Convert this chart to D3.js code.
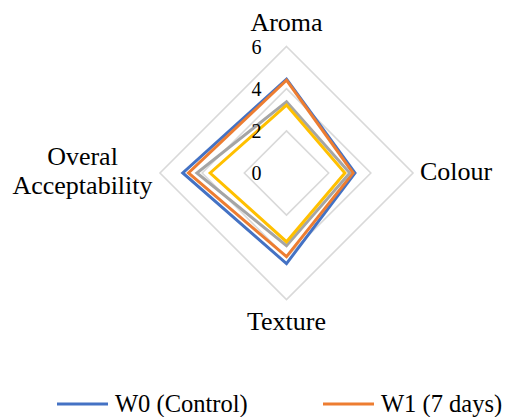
<!DOCTYPE html>
<html><head><meta charset="utf-8">
<script src="https://cdn.jsdelivr.net/npm/d3@7"></script>
<style>body{margin:0;background:#fff}svg{display:block}</style>
</head><body><svg id="c" width="507" height="417"></svg>
<script>
const categories = ["Aroma", "Colour", "Texture", "Overal Acceptability"];
const seriesNames = ["W0 (Control)", "W1 (7 days)", "W2 (14 days)", "W3 (21 days)"];
const w0 = [4.45, 3.25, 4.30, 4.92];
const w1 = [4.40, 3.16, 3.97, 4.65];
const w2 = [3.38, 3.00, 3.45, 4.25];
const w3 = [3.22, 2.77, 3.26, 3.62];
const ticks = [0, 2, 4, 6];
const colors = ["#4472C4", "#ED7D31", "#A5A5A5", "#FFC000"];
const seriesData = [w0, w1, w2, w3];
const FONT = "'Liberation Serif', 'Times New Roman', serif";

const svg = d3.select("#c").attr("font-family", FONT);
const cx = 286.5, cy = 173, R = 126.5;
const r = d3.scaleLinear().domain([0, 6]).range([0, R]);
const angle = i => i * 2 * Math.PI / categories.length;
const line = d3.lineRadial().angle((d, i) => angle(i)).radius(d => r(d)).curve(d3.curveLinearClosed);

const g = svg.append("g").attr("transform", `translate(${cx},${cy})`);
g.selectAll("path.grid").data(ticks.filter(t => t > 0)).join("path")
  .attr("class", "grid")
  .attr("d", t => line(categories.map(() => t)))
  .attr("fill", "none").attr("stroke", "#D9D9D9").attr("stroke-width", 1.6);
g.selectAll("path.s").data(seriesData).join("path")
  .attr("class", "s")
  .attr("d", d => line(d))
  .attr("fill", "none").attr("stroke", (d, i) => colors[i])
  .attr("stroke-width", 3).attr("stroke-linejoin", "miter");
g.selectAll("text.tick").data(ticks).join("text")
  .attr("class", "tick").attr("font-family", FONT)
  .attr("x", -25).attr("y", t => -r(t) + 7)
  .attr("text-anchor", "end").attr("font-size", 20)
  .text(t => t);
const labelPos = {
  "Aroma": {x: cx, y: 31, anchor: "middle"},
  "Colour": {x: 420, y: 180, anchor: "start"},
  "Texture": {x: cx, y: 330, anchor: "middle"},
  "Overal Acceptability": {x: 82.5, y: 165, anchor: "middle"}
};
categories.forEach(c => {
  const p = labelPos[c];
  const t = svg.append("text").attr("x", p.x).attr("y", p.y).attr("font-family", FONT)
    .attr("text-anchor", p.anchor).attr("font-size", 26);
  if (c === "Overal Acceptability") {
    t.append("tspan").attr("x", p.x).attr("dy", 0).text("Overal");
    t.append("tspan").attr("x", p.x).attr("dy", 28.5).text("Acceptability");
  } else t.text(c);
});
// legend (only the first row is inside the frame)
const legPos = [{x: 57, y: 404}, {x: 323, y: 404}];
legPos.forEach((p, i) => {
  svg.append("line").attr("x1", p.x).attr("x2", p.x + 51).attr("y1", p.y).attr("y2", p.y)
    .attr("stroke", colors[i]).attr("stroke-width", 3);
  svg.append("text").attr("x", p.x + 58).attr("y", p.y + 8).attr("font-family", FONT)
    .attr("font-size", 24.5).text(seriesNames[i]);
});
</script></body></html>
